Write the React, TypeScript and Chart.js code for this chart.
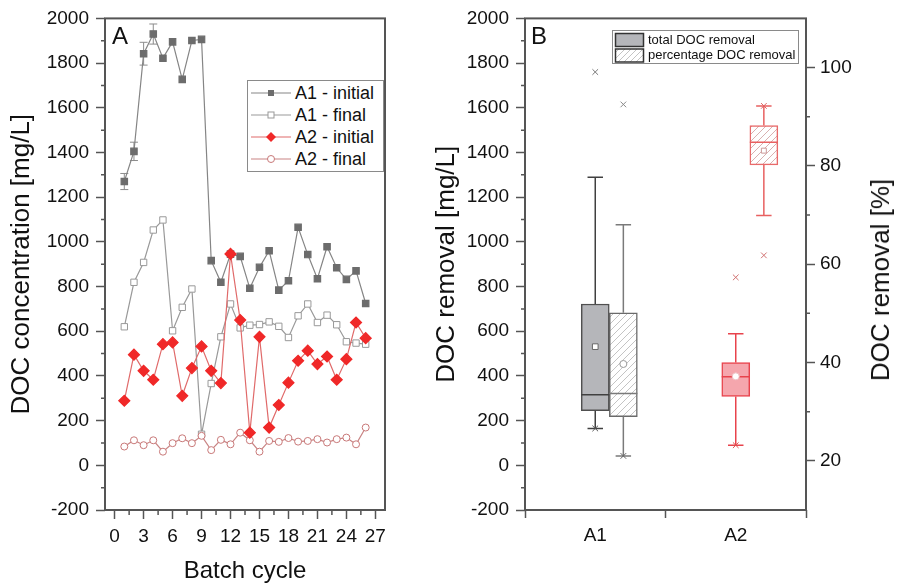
import React, { useEffect, useRef } from 'react';
import { Chart, registerables } from 'chart.js';

Chart.register(...registerables);

const FONT = '"Liberation Sans", Arial, Helvetica, sans-serif';
Chart.defaults.font.family = FONT;

// ---------- Panel A data ----------
const batchCycles = [1, 2, 3, 4, 5, 6, 7, 8, 9, 10, 11, 12, 13, 14, 15, 16, 17, 18, 19, 20, 21, 22, 23, 24, 25, 26];
const a1Initial = [1270, 1405, 1842, 1930, 1822, 1895, 1727, 1901, 1906, 916, 819, 945, 935, 792, 886, 960, 784, 826, 1065, 943, 835, 978, 884, 832, 870, 724];
const a1InitialErr = [36, 41, 51, 45, 0, 0, 0, 0, 0, 0, 0, 0, 0, 0, 0, 0, 0, 0, 0, 0, 0, 0, 0, 0, 0, 0];
const a1Final = [620, 819, 908, 1053, 1098, 602, 707, 789, 139, 366, 575, 722, 615, 627, 630, 642, 622, 572, 669, 722, 639, 672, 629, 553, 547, 542];
const a2Initial = [289, 495, 423, 383, 542, 550, 311, 435, 532, 423, 368, 946, 650, 146, 575, 169, 270, 370, 468, 513, 453, 487, 383, 475, 639, 569];
const a2Final = [84, 112, 90, 112, 61, 99, 121, 99, 132, 68, 114, 94, 146, 112, 61, 109, 105, 122, 106, 109, 117, 102, 117, 124, 94, 169];

const cycleTicks = [0, 3, 6, 9, 12, 15, 18, 21, 24, 27];
const cycleMinorTicks = [1.5, 4.5, 7.5, 10.5, 13.5, 16.5, 19.5, 22.5, 25.5];
const concTicks = [-200, 0, 200, 400, 600, 800, 1000, 1200, 1400, 1600, 1800, 2000];
const concMinorTicks = [-100, 100, 300, 500, 700, 900, 1100, 1300, 1500, 1700, 1900];

// ---------- Panel B data ----------
const boxGroups = ['A1', 'A2'];
const totalWhiskerLow = [165, 90];
const totalQ1 = [244, 308];
const totalMedian = [316, 396];
const totalQ3 = [722, 460];
const totalWhiskerHigh = [1289, 589];
const totalMean = [531, 398];
const totalMin = [165, 90];
const totalMax = [1760, 841];

const pctWhiskerLow = [21.0, 69.9];
const pctQ1 = [29.0, 80.2];
const pctMedian = [33.7, 84.8];
const pctQ3 = [50.1, 88.2];
const pctWhiskerHigh = [68.0, 92.2];
const pctMean = [39.7, 83.1];
const pctMin = [21.0, 61.8];
const pctMax = [92.5, 92.2];

const pctTicks = [20, 40, 60, 80, 100];
const pctMinorTicks = [30, 50, 70, 90];

// layout constants
const boxPos = [0.5, 1.5];
const pctShift = 0.2;
const capHalf = 0.055;
const medHalf = 0.1;
const AXIS = '#555';
const TXT = '#111';

function makeHatch(ctx: CanvasRenderingContext2D, color: string) {
  const c = document.createElement('canvas');
  c.width = 7;
  c.height = 7;
  const g = c.getContext('2d')!;
  g.fillStyle = '#fff';
  g.fillRect(0, 0, 7, 7);
  g.strokeStyle = color;
  g.lineWidth = 1;
  g.beginPath();
  g.moveTo(-1, 8); g.lineTo(8, -1);
  g.moveTo(-1, 1); g.lineTo(1, -1);
  g.moveTo(6, 8); g.lineTo(8, 6);
  g.stroke();
  return ctx.createPattern(c, 'repeat')!;
}

const framePlugin = {
  id: 'frame',
  afterDraw(chart: any) {
    const { ctx, chartArea: a } = chart;
    ctx.save();
    ctx.strokeStyle = AXIS;
    ctx.lineWidth = 2;
    ctx.strokeRect(a.left, a.top, a.right - a.left, a.bottom - a.top);
    ctx.restore();
  },
};

function makeMinorTicks(axes: { id: string; values: number[]; len: number }[]) {
  return {
    id: 'minorTicks',
    afterDraw(chart: any) {
      const ctx = chart.ctx;
      ctx.save();
      ctx.strokeStyle = AXIS;
      ctx.lineWidth = 1.5;
      ctx.beginPath();
      axes.forEach(({ id, values, len }) => {
        const s = chart.scales[id];
        values.forEach((v) => {
          const p = s.getPixelForValue(v);
          if (s.isHorizontal()) {
            ctx.moveTo(p, s.top);
            ctx.lineTo(p, s.top + len);
          } else if (s.position === 'left') {
            ctx.moveTo(s.right, p);
            ctx.lineTo(s.right - len, p);
          } else {
            ctx.moveTo(s.left, p);
            ctx.lineTo(s.left + len, p);
          }
        });
      });
      ctx.stroke();
      ctx.restore();
    },
  };
}

const errorBarPlugin = {
  id: 'errBars',
  beforeDatasetsDraw(chart: any) {
    const { ctx } = chart;
    const xs = chart.scales.x;
    const ys = chart.scales.y;
    ctx.save();
    ctx.strokeStyle = '#8c8c8c';
    ctx.lineWidth = 1;
    ctx.beginPath();
    batchCycles.forEach((c, i) => {
      const e = a1InitialErr[i];
      if (!e) return;
      const px = xs.getPixelForValue(c);
      const t = ys.getPixelForValue(a1Initial[i] + e);
      const b = ys.getPixelForValue(a1Initial[i] - e);
      ctx.moveTo(px, t); ctx.lineTo(px, b);
      ctx.moveTo(px - 4, t); ctx.lineTo(px + 4, t);
      ctx.moveTo(px - 4, b); ctx.lineTo(px + 4, b);
    });
    ctx.stroke();
    ctx.restore();
  },
};

const tickFont = { family: FONT, size: 19 };
const titleFont = { family: FONT, size: 26 };

function axisGrid(len: number) {
  return { drawOnChartArea: false, drawTicks: true, tickLength: len, tickWidth: 1.5, tickColor: AXIS, color: AXIS };
}

function boxLines(x: number, lo: number, q1: number, med: number, q3: number, hi: number) {
  return [
    { x, y: q3 }, { x, y: hi }, { x, y: null },
    { x: x - capHalf, y: hi }, { x: x + capHalf, y: hi }, { x, y: null },
    { x, y: q1 }, { x, y: lo }, { x, y: null },
    { x: x - capHalf, y: lo }, { x: x + capHalf, y: lo }, { x, y: null },
    { x: x - medHalf, y: med }, { x: x + medHalf, y: med },
  ];
}

function configA(): any {
  const pts = (arr: number[]) => batchCycles.map((c, i) => ({ x: c, y: arr[i] }));
  return {
    type: 'line',
    data: {
      datasets: [
        {
          label: 'A2 - initial', data: pts(a2Initial), borderColor: '#e06a6a', borderWidth: 1.2,
          pointStyle: 'rectRot', pointRadius: 5.5, pointBackgroundColor: '#f02828', pointBorderColor: '#f02828', order: 0,
        },
        {
          label: 'A2 - final', data: pts(a2Final), borderColor: '#c98484', borderWidth: 1.2,
          pointStyle: 'circle', pointRadius: 3.5, pointBackgroundColor: '#fff', pointBorderColor: '#c87878', pointBorderWidth: 1, order: 1,
        },
        {
          label: 'A1 - final', data: pts(a1Final), borderColor: '#999', borderWidth: 1.2,
          pointStyle: 'rect', pointRadius: 4.5, pointBackgroundColor: '#fff', pointBorderColor: '#999', pointBorderWidth: 1, order: 2,
        },
        {
          label: 'A1 - initial', data: pts(a1Initial), borderColor: '#858585', borderWidth: 1.2,
          pointStyle: 'rect', pointRadius: 4.5, pointBackgroundColor: '#6c6c6c', pointBorderColor: '#6c6c6c', order: 3,
        },
      ],
    },
    options: {
      animation: false,
      responsive: false,
      devicePixelRatio: 1,
      layout: { padding: { top: 18, right: 45, left: 0, bottom: 0 } },
      plugins: { legend: { display: false }, tooltip: { enabled: false } },
      elements: { line: { tension: 0 } },
      scales: {
        x: {
          type: 'linear', min: -1, max: 28,
          afterBuildTicks: (s: any) => { s.ticks = cycleTicks.map((v) => ({ value: v })); },
          afterFit: (s: any) => { s.height = 78; },
          ticks: { autoSkip: false, maxRotation: 0, padding: 6, font: tickFont, color: TXT, callback: (v: any) => String(v) },
          grid: axisGrid(9),
          border: { display: false },
          title: { display: true, text: 'Batch cycle', color: TXT, font: { family: FONT, size: 24 }, padding: { top: 0, bottom: 2 } },
        },
        y: {
          type: 'linear', min: -200, max: 2000,
          afterBuildTicks: (s: any) => { s.ticks = concTicks.map((v) => ({ value: v })); },
          afterFit: (s: any) => { s.width = 105; },
          ticks: { autoSkip: false, padding: 7, font: tickFont, color: TXT, callback: (v: any) => String(v) },
          grid: axisGrid(9),
          border: { display: false },
          title: { display: true, text: 'DOC concentration [mg/L]', color: TXT, font: titleFont, padding: { top: 6, bottom: 0 } },
        },
      },
    },
    plugins: [
      framePlugin,
      errorBarPlugin,
      makeMinorTicks([
        { id: 'x', values: cycleMinorTicks, len: 5 },
        { id: 'y', values: concMinorTicks, len: 4 },
      ]),
    ],
  };
}

function configB(hatchGray: CanvasPattern, hatchRed: CanvasPattern): any {
  const lineDs = (data: any[], color: string, axis: string) => ({
    type: 'line', data, borderColor: color, borderWidth: 1.5, pointRadius: 0, spanGaps: false,
    yAxisID: axis, order: 2,
  });
  return {
    type: 'bar',
    data: {
      datasets: [
        {
          type: 'bar', label: 'total DOC removal', yAxisID: 'y',
          data: boxPos.map((p, i) => ({ x: p, y: [totalQ1[i], totalQ3[i]] })),
          backgroundColor: ['#b5b6ba', '#f5a6ad'], borderColor: ['#505050', '#e8434c'],
          borderWidth: 1.5, borderSkipped: false, barThickness: 28, grouped: false, order: 5,
        },
        {
          type: 'bar', label: 'percentage DOC removal', yAxisID: 'y2',
          data: boxPos.map((p, i) => ({ x: p + pctShift, y: [pctQ1[i], pctQ3[i]] })),
          backgroundColor: [hatchGray, hatchRed], borderColor: ['#6a6a6a', '#e86a6a'],
          borderWidth: 1.5, borderSkipped: false, barThickness: 28, grouped: false, order: 5,
        },
        lineDs(boxLines(boxPos[0], totalWhiskerLow[0], totalQ1[0], totalMedian[0], totalQ3[0], totalWhiskerHigh[0]), '#404040', 'y'),
        lineDs(boxLines(boxPos[1], totalWhiskerLow[1], totalQ1[1], totalMedian[1], totalQ3[1], totalWhiskerHigh[1]), '#e8434c', 'y'),
        lineDs(boxLines(boxPos[0] + pctShift, pctWhiskerLow[0], pctQ1[0], pctMedian[0], pctQ3[0], pctWhiskerHigh[0]), '#7a7a7a', 'y2'),
        lineDs(boxLines(boxPos[1] + pctShift, pctWhiskerLow[1], pctQ1[1], pctMedian[1], pctQ3[1], pctWhiskerHigh[1]), '#e86060', 'y2'),
        {
          type: 'scatter', label: 'mean total', yAxisID: 'y', order: 1,
          data: boxPos.map((p, i) => ({ x: p, y: totalMean[i] })),
          pointStyle: ['rect', 'circle'], pointRadius: [4, 3.5],
          pointBackgroundColor: ['#fff', '#fff'], pointBorderColor: ['#666', '#f0c0c4'], pointBorderWidth: 1,
        },
        {
          type: 'scatter', label: 'mean pct', yAxisID: 'y2', order: 1,
          data: boxPos.map((p, i) => ({ x: p + pctShift, y: pctMean[i] })),
          pointStyle: ['circle', 'rect'], pointRadius: [3.5, 3.5],
          pointBackgroundColor: ['#fff', '#fff'], pointBorderColor: ['#999', '#c99'], pointBorderWidth: 1,
        },
        {
          type: 'scatter', label: 'min/max total', yAxisID: 'y', order: 0,
          data: boxPos.flatMap((p, i) => [{ x: p, y: totalMin[i] }, { x: p, y: totalMax[i] }]),
          pointStyle: 'crossRot', pointRadius: 4, pointBorderWidth: 1,
          pointBorderColor: ['#555', '#777', '#e05050', '#d07070'],
        },
        {
          type: 'scatter', label: 'min/max pct', yAxisID: 'y2', order: 0,
          data: boxPos.flatMap((p, i) => [{ x: p + pctShift, y: pctMin[i] }, { x: p + pctShift, y: pctMax[i] }]),
          pointStyle: 'crossRot', pointRadius: 4, pointBorderWidth: 1,
          pointBorderColor: ['#666', '#888', '#d07070', '#e06060'],
        },
      ],
    },
    options: {
      animation: false,
      responsive: false,
      devicePixelRatio: 1,
      layout: { padding: { top: 18, right: 0, left: 0, bottom: 0 } },
      plugins: { legend: { display: false }, tooltip: { enabled: false } },
      scales: {
        x: {
          type: 'linear', min: 0, max: 2, offset: false,
          afterBuildTicks: (s: any) => { s.ticks = boxPos.map((v) => ({ value: v })); },
          afterFit: (s: any) => { s.height = 78; },
          ticks: { autoSkip: false, maxRotation: 0, padding: 6, font: tickFont, color: TXT, callback: (_v: any, i: number) => boxGroups[i] },
          grid: axisGrid(8),
          border: { display: false },
        },
        y: {
          type: 'linear', position: 'left', min: -200, max: 2000,
          afterBuildTicks: (s: any) => { s.ticks = concTicks.map((v) => ({ value: v })); },
          afterFit: (s: any) => { s.width = 95; },
          ticks: { autoSkip: false, padding: 7, font: tickFont, color: TXT, callback: (v: any) => String(v) },
          grid: axisGrid(9),
          border: { display: false },
          title: { display: true, text: 'DOC removal [mg/L]', color: TXT, font: titleFont, padding: { top: 1.5, bottom: 0 } },
        },
        y2: {
          type: 'linear', position: 'right', min: 10, max: 110,
          afterBuildTicks: (s: any) => { s.ticks = pctTicks.map((v) => ({ value: v })); },
          afterFit: (s: any) => { s.width = 96; },
          ticks: { autoSkip: false, padding: 5, font: tickFont, color: TXT, callback: (v: any) => String(v) },
          grid: axisGrid(9),
          border: { display: false },
        },
      },
    },
    plugins: [
      framePlugin,
      makeMinorTicks([
        { id: 'y', values: concMinorTicks, len: 4 },
        { id: 'y2', values: pctMinorTicks, len: 4 },
      ]),
    ],
  };
}

function LegendMarker({ kind }: { kind: number }) {
  const lineColors = ['#858585', '#999', '#e06a6a', '#c98484'];
  return (
    <svg width={42} height={22} style={{ position: 'absolute', left: 2, top: 0 }}>
      <line x1={1} y1={11} x2={41} y2={11} stroke={lineColors[kind]} strokeWidth={1.2} />
      {kind === 0 && <rect x={18} y={8} width={6} height={6} fill="#6c6c6c" />}
      {kind === 1 && <rect x={18} y={8} width={6} height={6} fill="#fff" stroke="#999" strokeWidth={1} />}
      {kind === 2 && <polygon points="21,6 26,11 21,16 16,11" fill="#f02828" />}
      {kind === 3 && <circle cx={21} cy={11} r={3.5} fill="#fff" stroke="#c87878" strokeWidth={1} />}
    </svg>
  );
}

const legendALabels = ['A1 - initial', 'A1 - final', 'A2 - initial', 'A2 - final'];

export default function App() {
  const refA = useRef<HTMLCanvasElement>(null);
  const refB = useRef<HTMLCanvasElement>(null);

  useEffect(() => {
    const chartA = new Chart(refA.current!, configA());
    const ctxB = refB.current!.getContext('2d')!;
    const hatchGray = makeHatch(ctxB, '#c4c4c4');
    const hatchRed = makeHatch(ctxB, '#d9b0b0');
    const chartB = new Chart(refB.current!, configB(hatchGray, hatchRed));
    return () => {
      chartA.destroy();
      chartB.destroy();
    };
  }, []);

  return (
    <div style={{ position: 'absolute', left: 0, top: 0, width: 902, height: 588, background: '#fff', fontFamily: FONT, color: TXT }}>
      <canvas ref={refA} width={430} height={588} style={{ position: 'absolute', left: 0, top: 0 }} />
      <canvas ref={refB} width={472} height={588} style={{ position: 'absolute', left: 430, top: 0 }} />

      <div style={{ position: 'absolute', left: 112, top: 24, fontSize: 24, lineHeight: '24px' }}>A</div>
      <div style={{ position: 'absolute', left: 531, top: 24, fontSize: 24, lineHeight: '24px' }}>B</div>

      {/* Legend A */}
      <div style={{ position: 'absolute', left: 247, top: 80, width: 137, height: 92, boxSizing: 'border-box', border: '1px solid #8a8a8a', background: '#fff' }}>
        {legendALabels.map((t, i) => (
          <div key={t} style={{ position: 'absolute', left: 0, top: 1 + 22 * i, width: 134, height: 22 }}>
            <LegendMarker kind={i} />
            <div style={{ position: 'absolute', left: 47, top: 0, fontSize: 18, lineHeight: '22px', whiteSpace: 'nowrap' }}>{t}</div>
          </div>
        ))}
      </div>

      {/* Legend B */}
      <div style={{ position: 'absolute', left: 612, top: 30, width: 187, height: 34, boxSizing: 'border-box', border: '1px solid #8a8a8a', background: '#fff' }}>
        <svg width={32} height={32} style={{ position: 'absolute', left: 0, top: 0 }}>
          <defs>
            <pattern id="hatchLeg" width="6" height="6" patternUnits="userSpaceOnUse">
              <path d="M-1,7 L7,-1 M-1,1 L1,-1 M5,7 L7,5" stroke="#c4c4c4" strokeWidth="1" />
            </pattern>
          </defs>
          <rect x={2.5} y={2.5} width={28} height={13} fill="#b5b6ba" stroke="#333" strokeWidth={1.5} />
          <rect x={2.5} y={18} width={28} height={13} fill="url(#hatchLeg)" stroke="#333" strokeWidth={1.5} />
        </svg>
        <div style={{ position: 'absolute', left: 35, top: 1, fontSize: 13, lineHeight: '16px', whiteSpace: 'nowrap' }}>total DOC removal</div>
        <div style={{ position: 'absolute', left: 35, top: 16, fontSize: 13, lineHeight: '16px', whiteSpace: 'nowrap' }}>percentage DOC removal</div>
      </div>

      {/* Right axis title of panel B */}
      <div
        style={{
          position: 'absolute', left: 880, top: 280, fontSize: 26, lineHeight: '30px', whiteSpace: 'nowrap',
          transform: 'translate(-50%, -50%) rotate(-90deg)',
        }}
      >
        DOC removal [%]
      </div>
    </div>
  );
}
